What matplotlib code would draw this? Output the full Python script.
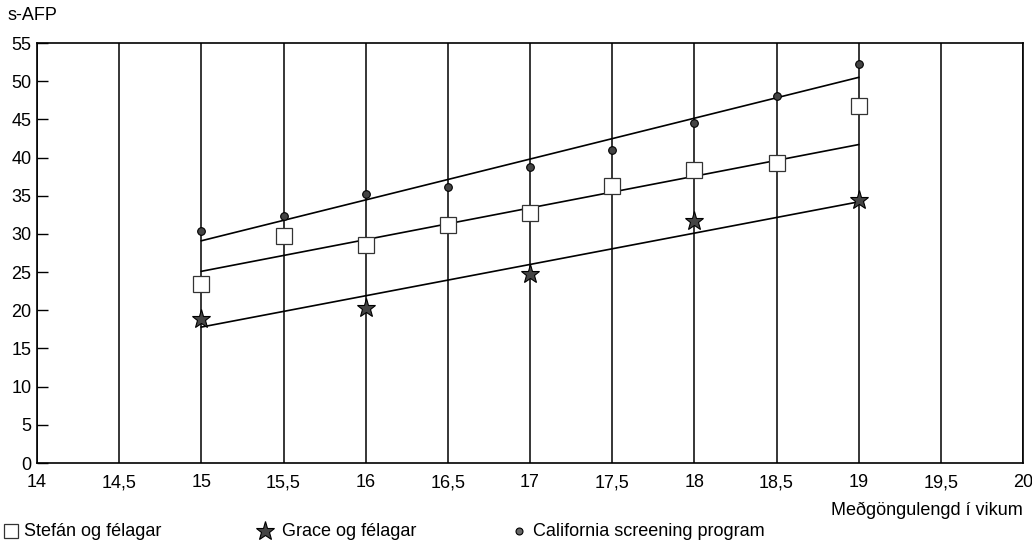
import matplotlib
matplotlib.use("Agg")
import matplotlib.pyplot as plt
from matplotlib.lines import Line2D

plt.rcParams['font.family'] = ['Liberation Sans', 'DejaVu Sans']

# Data
weeks = [15, 15.5, 16, 16.5, 17, 17.5, 18, 18.5, 19]
california = [30.4, 32.4, 35.2, 36.2, 38.7, 41.0, 44.5, 48.0, 52.3]
stefan = [23.5, 29.7, 28.5, 31.2, 32.8, 36.3, 38.4, 39.3, 46.7]
grace_weeks = [15, 16, 17, 18, 19]
grace = [18.9, 20.3, 24.8, 31.7, 34.5]

fit_weeks = [15, 19]
fit_california = [29.1, 50.5]
fit_stefan = [25.1, 41.7]
fit_grace = [17.8, 34.2]

x_ticks = [14, 14.5, 15, 15.5, 16, 16.5, 17, 17.5, 18, 18.5, 19, 19.5, 20]
x_labels = ['14', '14,5', '15', '15,5', '16', '16,5', '17', '17,5', '18', '18,5', '19', '19,5', '20']
y_ticks = list(range(0, 56, 5))

FS = 13

fig = plt.figure(figsize=(10.32, 5.44), dpi=100)
ax = fig.add_axes([37/1032, 1-463/544, (1023-37)/1032, (463-43)/544])

for xv in x_ticks:
    ax.axvline(xv, color='black', lw=1.1, zorder=1)

ax.plot(fit_weeks, fit_california, color='black', lw=1.2, zorder=2)
ax.plot(fit_weeks, fit_stefan, color='black', lw=1.2, zorder=2)
ax.plot(fit_weeks, fit_grace, color='black', lw=1.2, zorder=2)

ax.plot(weeks, california, 'o', ms=5.5, mfc='#444444', mec='black', mew=0.8, zorder=3)
ax.plot(weeks, stefan, 's', ms=11, mfc='white', mec='#333333', mew=0.9, zorder=3)
ax.plot(grace_weeks, grace, '*', ms=14, mfc='#444444', mec='black', mew=0.8, zorder=3)

ax.set_xlim(14, 20)
ax.set_ylim(0, 55)
ax.set_xticks(x_ticks)
ax.set_xticklabels(x_labels, fontsize=FS)
ax.set_yticks(y_ticks)
ax.set_yticklabels([str(v) for v in y_ticks], fontsize=FS)
ax.tick_params(axis='x', length=0, pad=8)
ax.tick_params(axis='y', direction='in', length=8, width=1, pad=4)
for s in ax.spines.values():
    s.set_linewidth(1.2)

fig.text(8/1032, 1-16/544, 's-AFP', fontsize=FS, ha='left', va='center')
fig.text(1023/1032, 1-510/544, 'Meðgöngulengd í vikum', fontsize=FS, ha='right', va='center')

ly = 1-531/544
fig.add_artist(Line2D([11/1032], [ly], marker='s', ms=10, mfc='white', mec='#333333', mew=0.9, transform=fig.transFigure))
fig.text(24/1032, ly, 'Stefán og félagar', fontsize=FS, ha='left', va='center')
fig.add_artist(Line2D([265/1032], [ly], marker='*', ms=14, mfc='#444444', mec='black', mew=0.8, transform=fig.transFigure))
fig.text(282/1032, ly, 'Grace og félagar', fontsize=FS, ha='left', va='center')
fig.add_artist(Line2D([519/1032], [ly], marker='o', ms=5, mfc='#666666', mec='black', mew=0.8, transform=fig.transFigure))
fig.text(533/1032, ly, 'California screening program', fontsize=FS, ha='left', va='center')

fig.savefig('out.png', dpi=100)
